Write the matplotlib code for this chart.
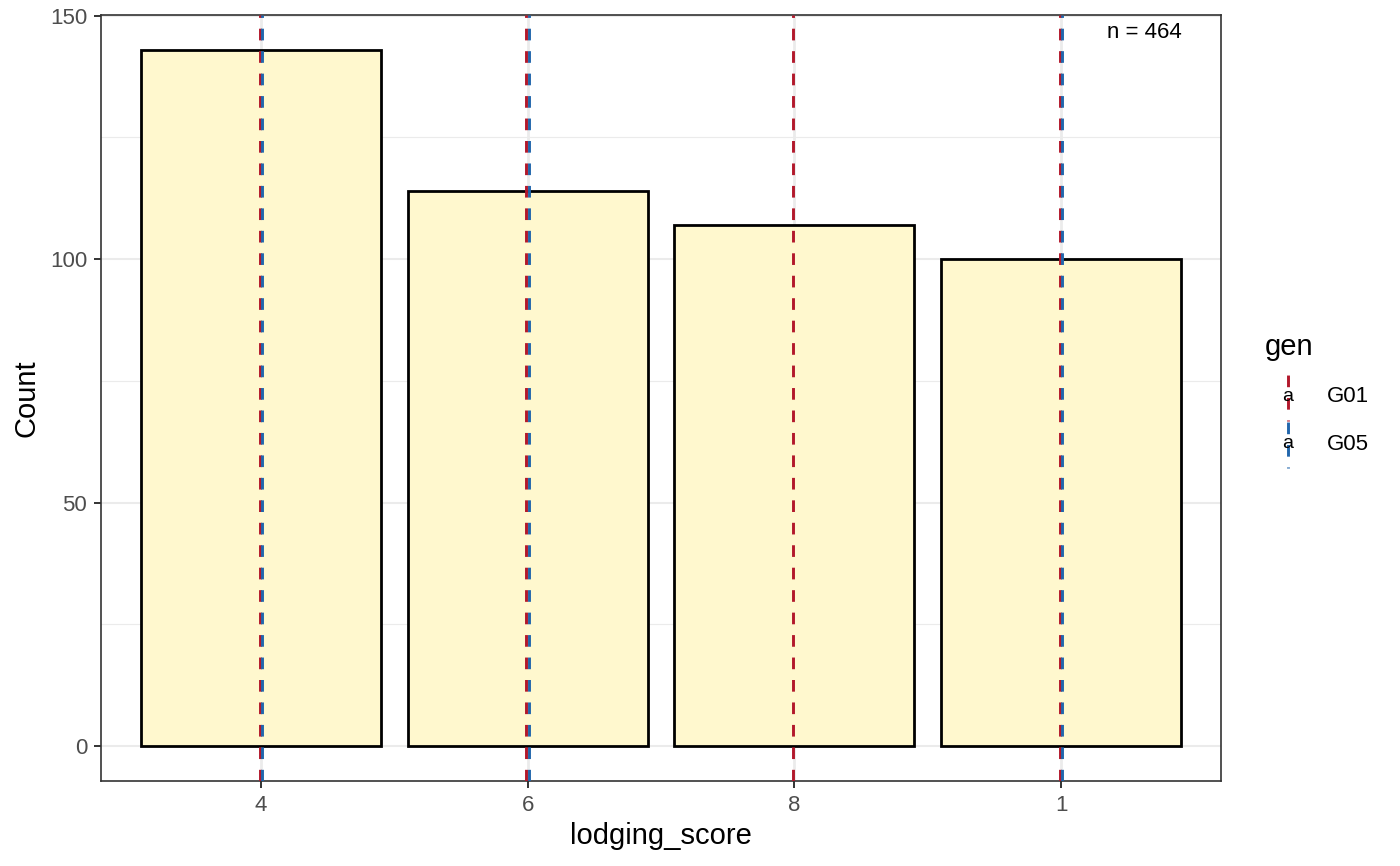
import numpy as np
import matplotlib.pyplot as plt
from matplotlib.lines import Line2D

plt.rcParams['font.family'] = ['Liberation Sans', 'DejaVu Sans']

# data
categories = ['4', '6', '8', '1']
counts = [143, 114, 107, 100]
gen_names = ['G01', 'G05']
gen_colors = ['#B2182B', '#2166AC']
# categories where each genotype's reference line sits
gen_lines = {'G01': ['4', '6', '8', '1'], 'G05': ['4', '6', '1']}
n_total = sum(counts)

fig = plt.figure(figsize=(14, 8.66), dpi=100)
ax = fig.add_axes([101 / 1400, 1 - 781 / 866, 1120 / 1400, 766 / 866])

x = np.arange(1, len(categories) + 1)

# grid like theme_bw
for yv in [0, 50, 100, 150]:
    ax.axhline(yv, color='#EBEBEB', lw=1.5, zorder=0)
for yv in [25, 75, 125]:
    ax.axhline(yv, color='#EBEBEB', lw=0.8, zorder=0)
for xv in x:
    ax.axvline(xv, color='#EBEBEB', lw=2.0, zorder=0)

ax.bar(x, counts, width=0.9, color='#FFF8CE', edgecolor='black', linewidth=2.0, zorder=2)

dash = (0, (4, 3.7))
offsets = {'G01': -0.0055, 'G05': 0.0055}
for name, col in zip(gen_names, gen_colors):
    for c in gen_lines[name]:
        xi = categories.index(c) + 1
        ax.axvline(xi + offsets[name], color=col, lw=2.1, ls=dash, zorder=3)

ax.set_xlim(0.4, 4.6)
ax.set_ylim(-7.15, 150.15)
ax.set_xticks(x)
ax.set_xticklabels(categories)
ax.set_yticks([0, 50, 100, 150])
ax.tick_params(axis='both', labelsize=16, colors='#333333', labelcolor='#4D4D4D',
               length=5, width=1.4, pad=5)
for s in ax.spines.values():
    s.set_color('#333333')
    s.set_linewidth(1.2)
ax.set_xlabel('lodging_score', fontsize=21, va='center')
ax.xaxis.set_label_coords(0.5, (781 - 836) / 766)
ax.set_ylabel('Count', fontsize=21, va='center')
ax.yaxis.set_label_coords((26 - 101) / 1120, 0.5)

ax.text((1182 - 101) / 1120, 1 - (32 - 15) / 766, f'n = {n_total}',
        transform=ax.transAxes, ha='right', va='center', fontsize=16)

# legend
fig.text(1265 / 1400, 1 - 347 / 866, 'gen', fontsize=21, va='center', ha='left')
for i, (name, col) in enumerate(zip(gen_names, gen_colors)):
    yc = 397 + i * 47
    fig.add_artist(Line2D([1288 / 1400] * 2, [1 - (yc - 24) / 866, 1 - (yc + 24) / 866],
                          color=col, lw=2.1, ls=(7, (4, 3.7)), transform=fig.transFigure))
    fig.text(1288 / 1400, 1 - yc / 866, 'a', fontsize=14, ha='center', va='center')
    fig.text(1327 / 1400, 1 - yc / 866, name, fontsize=16, ha='left', va='center')

fig.savefig('out.png', dpi=100)
